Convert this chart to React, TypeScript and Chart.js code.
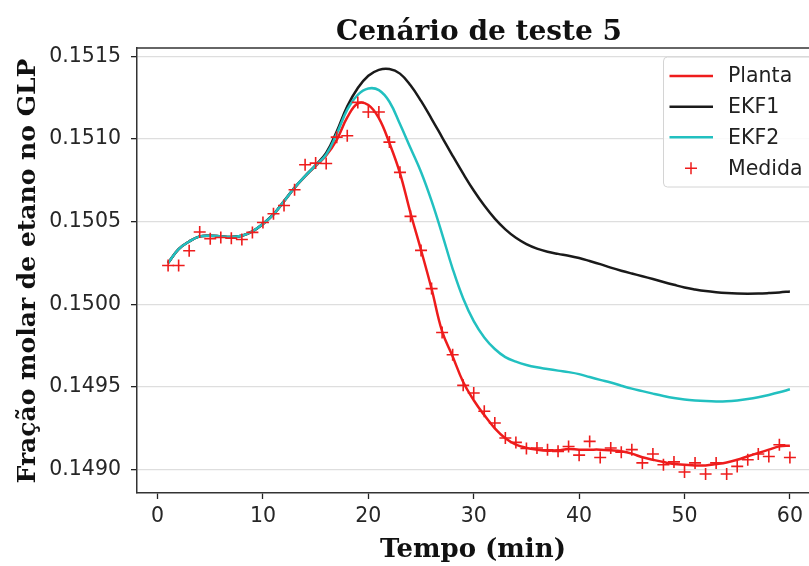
import React, { useEffect, useRef } from "react";
import { Chart, registerables } from "chart.js";

Chart.register(...registerables);

const timeMin = [
  1, 2, 3, 4, 5, 6, 7, 8, 9, 10, 11, 12, 13, 14, 15, 16, 17, 18, 19, 20,
  21, 22, 23, 24, 25, 26, 27, 28, 29, 30, 31, 32, 33, 34, 35, 36, 37, 38, 39, 40,
  41, 42, 43, 44, 45, 46, 47, 48, 49, 50, 51, 52, 53, 54, 55, 56, 57, 58, 59, 60,
];

const planta = [
  0.15025, 0.150334, 0.15038, 0.150411, 0.150415, 0.150411, 0.150407, 0.150415, 0.150441, 0.150485,
  0.150542, 0.150622, 0.150703, 0.150773, 0.150836, 0.1509, 0.150995, 0.15113, 0.151215, 0.151205,
  0.151126, 0.150975, 0.150794, 0.150552, 0.150328, 0.150094, 0.149836, 0.149685, 0.14953, 0.14942,
  0.14933, 0.14925, 0.14919, 0.149152, 0.149132, 0.149121, 0.149115, 0.149117, 0.149125, 0.149121,
  0.149121, 0.149121, 0.149117, 0.149111, 0.149097, 0.149075, 0.14906, 0.149046, 0.149034, 0.14903,
  0.149026, 0.149026, 0.149034, 0.149044, 0.14906, 0.149081, 0.149101, 0.149121, 0.149141, 0.149145,
];

const ekf1 = [
  0.15025, 0.150334, 0.15038, 0.150411, 0.150415, 0.150411, 0.150407, 0.150415, 0.150441, 0.150487,
  0.150545, 0.150625, 0.150706, 0.150776, 0.150842, 0.150915, 0.151045, 0.151197, 0.151308, 0.151382,
  0.151418, 0.151423, 0.151395, 0.151325, 0.15123, 0.151122, 0.15101, 0.150898, 0.15079, 0.150688,
  0.150597, 0.150518, 0.150453, 0.150402, 0.150364, 0.150337, 0.150318, 0.150305, 0.150294, 0.15028,
  0.150262, 0.150243, 0.150222, 0.150203, 0.150186, 0.15017, 0.150153, 0.150135, 0.150118, 0.150102,
  0.15009, 0.15008, 0.150073, 0.150068, 0.150065, 0.150064, 0.150065, 0.150068, 0.150072, 0.150078,
];

const ekf2 = [
  0.15025, 0.150334, 0.15038, 0.150411, 0.150415, 0.150411, 0.150407, 0.150415, 0.150441, 0.150486,
  0.150544, 0.150624, 0.150705, 0.150775, 0.15084, 0.150906, 0.151031, 0.151177, 0.151267, 0.151305,
  0.151295, 0.151225, 0.15109, 0.150945, 0.1508, 0.150625, 0.150425, 0.150215, 0.150035, 0.149898,
  0.1498, 0.14973, 0.149681, 0.149653, 0.149633, 0.149619, 0.149609, 0.149599, 0.14959, 0.149578,
  0.14956, 0.149543, 0.149527, 0.149508, 0.14949, 0.149475, 0.14946, 0.149446, 0.149434, 0.149425,
  0.149419, 0.149415, 0.149413, 0.149414, 0.149419, 0.149427, 0.149438, 0.149452, 0.149468, 0.149486,
];

const medida = [
  0.150235, 0.150235, 0.150324, 0.150437, 0.150397, 0.150404, 0.1504, 0.150392, 0.150435, 0.150495,
  0.150548, 0.150598, 0.150693, 0.150844, 0.150854, 0.150852, 0.151011, 0.151019, 0.151221, 0.151163,
  0.151163, 0.150981, 0.150798, 0.150532, 0.150326, 0.150095, 0.14983, 0.149695, 0.14951, 0.149464,
  0.149353, 0.149282, 0.149192, 0.149165, 0.149128, 0.149131, 0.14912, 0.149111, 0.14914, 0.149088,
  0.149171, 0.149074, 0.149131, 0.149105, 0.149121, 0.149041, 0.149095, 0.14903, 0.149047, 0.148986,
  0.149041, 0.148974, 0.149041, 0.148974, 0.14902, 0.14906, 0.149095, 0.14908, 0.149151, 0.149074,
];

const xTicks = [0, 10, 20, 30, 40, 50, 60];
const yTicks = [0.149, 0.1495, 0.15, 0.1505, 0.151, 0.1515];

const seriesNames = ["Planta", "EKF1", "EKF2", "Medida"];
const titleText = "Cenário de teste 5";
const xTitle = "Tempo (min)";
const yTitle = "Fração molar de etano no GLP";

const RED = "#ee1c1c";
const BLACK = "#1a1a1a";
const CYAN = "#22c0c0";

const toXY = (vals: number[]) => vals.map((v, i) => ({ x: timeMin[i], y: v }));

export default function App() {
  const ref = useRef<HTMLCanvasElement | null>(null);

  useEffect(() => {
    if (!ref.current) return;

    const decor = {
      id: "decor",
      afterDraw(chart: any) {
        const { ctx, chartArea } = chart;
        const { left, right, top } = chartArea;
        ctx.save();
        // top spine
        ctx.strokeStyle = "#333";
        ctx.lineWidth = 1.5;
        ctx.beginPath();
        ctx.moveTo(left, top);
        ctx.lineTo(right, top);
        ctx.stroke();
        // title
        ctx.fillStyle = "#111";
        ctx.textAlign = "center";
        ctx.textBaseline = "alphabetic";
        ctx.font = 'bold 28px "DejaVu Serif"';
        ctx.fillText(titleText, (left + right) / 2, 40);
        // x title
        ctx.font = 'bold 26px "DejaVu Serif"';
        ctx.fillText(xTitle, 473, 557);
        // y title
        ctx.save();
        ctx.font = 'bold 25px "DejaVu Serif"';
        ctx.translate(35, 271);
        ctx.rotate(-Math.PI / 2);
        ctx.fillText(yTitle, 0, 0);
        ctx.restore();
        // legend
        const bx = 663.5, by = 57, bw = 180, bh = 130, r = 4;
        ctx.beginPath();
        ctx.moveTo(bx + r, by);
        ctx.lineTo(bx + bw - r, by);
        ctx.arcTo(bx + bw, by, bx + bw, by + r, r);
        ctx.lineTo(bx + bw, by + bh - r);
        ctx.arcTo(bx + bw, by + bh, bx + bw - r, by + bh, r);
        ctx.lineTo(bx + r, by + bh);
        ctx.arcTo(bx, by + bh, bx, by + bh - r, r);
        ctx.lineTo(bx, by + r);
        ctx.arcTo(bx, by, bx + r, by, r);
        ctx.closePath();
        ctx.fillStyle = "rgba(255,255,255,0.85)";
        ctx.fill();
        ctx.strokeStyle = "#d4d4d4";
        ctx.lineWidth = 1;
        ctx.stroke();
        const rows = [76, 106.7, 137.3, 168.3];
        const colors = [RED, BLACK, CYAN, RED];
        ctx.font = '20.5px "DejaVu Sans"';
        ctx.textAlign = "left";
        ctx.textBaseline = "middle";
        rows.forEach((yy, i) => {
          ctx.strokeStyle = colors[i];
          if (i < 3) {
            ctx.lineWidth = 2.5;
            ctx.beginPath();
            ctx.moveTo(669.5, yy);
            ctx.lineTo(713, yy);
            ctx.stroke();
          } else {
            ctx.lineWidth = 1.5;
            ctx.beginPath();
            ctx.moveTo(685, yy);
            ctx.lineTo(697, yy);
            ctx.moveTo(691, yy - 6);
            ctx.lineTo(691, yy + 6);
            ctx.stroke();
          }
          ctx.fillStyle = "#222";
          ctx.fillText(seriesNames[i], 728, yy + 1);
        });
        ctx.restore();
      },
    };

    const lineBase = {
      borderWidth: 2.5,
      pointRadius: 0,
      tension: 0.4,
    };

    const chart = new Chart(ref.current, {
      type: "line",
      data: {
        datasets: [
          { ...lineBase, label: seriesNames[0], data: toXY(planta), borderColor: RED, order: 3 },
          { ...lineBase, label: seriesNames[1], data: toXY(ekf1), borderColor: BLACK, order: 2 },
          { ...lineBase, label: seriesNames[2], data: toXY(ekf2), borderColor: CYAN, order: 1 },
          {
            label: seriesNames[3],
            data: toXY(medida),
            showLine: false,
            borderColor: RED,
            backgroundColor: RED,
            borderWidth: 1.6,
            pointStyle: "cross",
            pointRadius: 6,
            order: 0,
          },
        ],
      },
      options: {
        responsive: false,
        animation: false,
        layout: { padding: { top: 48, right: 19, left: 0, bottom: 0 } },
        plugins: {
          legend: { display: false },
          title: { display: false },
          tooltip: { enabled: false },
        },
        scales: {
          x: {
            type: "linear",
            min: -1.95,
            max: 62.95,
            afterBuildTicks: (s: any) => {
              s.ticks = xTicks.map((v) => ({ value: v }));
            },
            afterFit: (s: any) => {
              s.height = 73;
            },
            grid: {
              drawOnChartArea: false,
              drawTicks: true,
              tickLength: 6,
              tickColor: "#222",
              tickWidth: 1.3,
            },
            border: { display: true, color: "#333", width: 1.5 },
            ticks: {
              color: "#262626",
              font: { family: '"DejaVu Sans"', size: 20.5 },
              padding: 5,
              maxRotation: 0,
              callback: (v: any) => String(v),
            },
          },
          y: {
            type: "linear",
            min: 0.148859,
            max: 0.15155,
            afterBuildTicks: (s: any) => {
              s.ticks = yTicks.map((v) => ({ value: v }));
            },
            afterFit: (s: any) => {
              s.width = 137;
            },
            grid: {
              color: "#dedede",
              lineWidth: 1.3,
              drawTicks: true,
              tickLength: 6,
              tickColor: "#222",
              tickWidth: 1.3,
            },
            border: { display: true, color: "#333", width: 1.5 },
            ticks: {
              color: "#262626",
              font: { family: '"DejaVu Sans"', size: 20.5 },
              padding: 10,
              callback: (v: any) => Number(v).toFixed(4),
            },
          },
        },
      },
      plugins: [decor],
    } as any);

    return () => chart.destroy();
  }, []);

  return (
    <div
      style={{
        position: "fixed",
        left: 0,
        top: 0,
        width: 809,
        height: 566,
        overflow: "hidden",
        background: "#fff",
      }}
    >
      <canvas ref={ref} width={840} height={566} style={{ width: 840, height: 566, display: "block" }} />
    </div>
  );
}
